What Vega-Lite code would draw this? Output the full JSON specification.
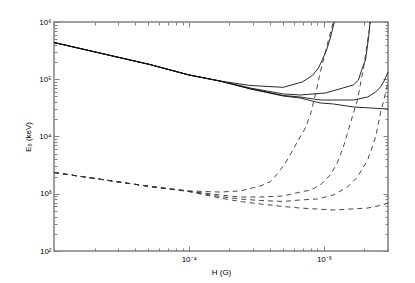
{
  "$schema": "https://vega.github.io/schema/vega-lite/v6.json",
  "width": 334,
  "height": 229,
  "autosize": "none",
  "padding": {"left": 54, "top": 22, "right": 27, "bottom": 32},
  "background": "white",
  "config": {
    "view": {"stroke": "#808080", "strokeWidth": 1.5},
    "font": "Liberation Sans",
    "axis": {"labelFont": "Liberation Sans", "titleFont": "Liberation Sans", "labelColor": "#000", "titleColor": "#000", "tickColor": "#808080", "tickWidth": 1, "domain": false, "grid": false, "labelFontSize": 8, "titleFontSize": 8, "titleFontWeight": "normal", "labelOverlap": false}
  },
  "datasets": {
    "curves": [
      {"curve": "s1", "branch": "high", "H": 0.00001, "E": 438000},
      {"curve": "s1", "branch": "high", "H": 0.0000217, "E": 288000},
      {"curve": "s1", "branch": "high", "H": 0.0000513, "E": 181000},
      {"curve": "s1", "branch": "high", "H": 0.0001, "E": 119000},
      {"curve": "s1", "branch": "high", "H": 0.00017, "E": 93100},
      {"curve": "s1", "branch": "high", "H": 0.000285, "E": 77800},
      {"curve": "s1", "branch": "high", "H": 0.000501, "E": 72300},
      {"curve": "s1", "branch": "high", "H": 0.000694, "E": 89500},
      {"curve": "s1", "branch": "high", "H": 0.000824, "E": 116000},
      {"curve": "s1", "branch": "high", "H": 0.000914, "E": 157000},
      {"curve": "s1", "branch": "high", "H": 0.000978, "E": 217000},
      {"curve": "s1", "branch": "high", "H": 0.00105, "E": 324000},
      {"curve": "s1", "branch": "high", "H": 0.00112, "E": 526000},
      {"curve": "s1", "branch": "high", "H": 0.0012, "E": 1000000},

      {"curve": "s2", "branch": "high", "H": 0.00001, "E": 438000},
      {"curve": "s2", "branch": "high", "H": 0.0000217, "E": 288000},
      {"curve": "s2", "branch": "high", "H": 0.0000513, "E": 181000},
      {"curve": "s2", "branch": "high", "H": 0.0001, "E": 119000},
      {"curve": "s2", "branch": "high", "H": 0.00017, "E": 93100},
      {"curve": "s2", "branch": "high", "H": 0.000285, "E": 70300},
      {"curve": "s2", "branch": "high", "H": 0.000501, "E": 55300},
      {"curve": "s2", "branch": "high", "H": 0.00067, "E": 53100},
      {"curve": "s2", "branch": "high", "H": 0.00103, "E": 57500},
      {"curve": "s2", "branch": "high", "H": 0.00166, "E": 79400},
      {"curve": "s2", "branch": "high", "H": 0.00181, "E": 97000},
      {"curve": "s2", "branch": "high", "H": 0.00188, "E": 128000},
      {"curve": "s2", "branch": "high", "H": 0.00205, "E": 226000},
      {"curve": "s2", "branch": "high", "H": 0.00215, "E": 526000},
      {"curve": "s2", "branch": "high", "H": 0.00221, "E": 1000000},

      {"curve": "s3", "branch": "high", "H": 0.00001, "E": 438000},
      {"curve": "s3", "branch": "high", "H": 0.0000217, "E": 288000},
      {"curve": "s3", "branch": "high", "H": 0.0000513, "E": 181000},
      {"curve": "s3", "branch": "high", "H": 0.0001, "E": 119000},
      {"curve": "s3", "branch": "high", "H": 0.00017, "E": 93100},
      {"curve": "s3", "branch": "high", "H": 0.000285, "E": 68900},
      {"curve": "s3", "branch": "high", "H": 0.000501, "E": 52000},
      {"curve": "s3", "branch": "high", "H": 0.00067, "E": 49000},
      {"curve": "s3", "branch": "high", "H": 0.000945, "E": 43400},
      {"curve": "s3", "branch": "high", "H": 0.00166, "E": 43400},
      {"curve": "s3", "branch": "high", "H": 0.00212, "E": 49000},
      {"curve": "s3", "branch": "high", "H": 0.00243, "E": 59900},
      {"curve": "s3", "branch": "high", "H": 0.00264, "E": 73200},
      {"curve": "s3", "branch": "high", "H": 0.00283, "E": 97000},
      {"curve": "s3", "branch": "high", "H": 0.003, "E": 134000},

      {"curve": "s4", "branch": "high", "H": 0.00001, "E": 438000},
      {"curve": "s4", "branch": "high", "H": 0.0000217, "E": 288000},
      {"curve": "s4", "branch": "high", "H": 0.0000513, "E": 181000},
      {"curve": "s4", "branch": "high", "H": 0.0001, "E": 119000},
      {"curve": "s4", "branch": "high", "H": 0.00017, "E": 93100},
      {"curve": "s4", "branch": "high", "H": 0.000285, "E": 67600},
      {"curve": "s4", "branch": "high", "H": 0.000501, "E": 51000},
      {"curve": "s4", "branch": "high", "H": 0.00067, "E": 47000},
      {"curve": "s4", "branch": "high", "H": 0.000945, "E": 38500},
      {"curve": "s4", "branch": "high", "H": 0.00118, "E": 37000},
      {"curve": "s4", "branch": "high", "H": 0.00166, "E": 32800},
      {"curve": "s4", "branch": "high", "H": 0.003, "E": 30200},

      {"curve": "d1", "branch": "low", "H": 0.00001, "E": 2350},
      {"curve": "d1", "branch": "low", "H": 0.0000217, "E": 1800},
      {"curve": "d1", "branch": "low", "H": 0.0000513, "E": 1340},
      {"curve": "d1", "branch": "low", "H": 0.0001, "E": 1120},
      {"curve": "d1", "branch": "low", "H": 0.00017, "E": 1070},
      {"curve": "d1", "branch": "low", "H": 0.00024, "E": 1120},
      {"curve": "d1", "branch": "low", "H": 0.000338, "E": 1360},
      {"curve": "d1", "branch": "low", "H": 0.000401, "E": 1620},
      {"curve": "d1", "branch": "low", "H": 0.00046, "E": 2300},
      {"curve": "d1", "branch": "low", "H": 0.000537, "E": 3890},
      {"curve": "d1", "branch": "low", "H": 0.000637, "E": 8020},
      {"curve": "d1", "branch": "low", "H": 0.000731, "E": 14100},
      {"curve": "d1", "branch": "low", "H": 0.000796, "E": 23800},
      {"curve": "d1", "branch": "low", "H": 0.000867, "E": 53100},
      {"curve": "d1", "branch": "low", "H": 0.000945, "E": 134000},
      {"curve": "d1", "branch": "low", "H": 0.00103, "E": 299000},
      {"curve": "d1", "branch": "low", "H": 0.0011, "E": 547000},
      {"curve": "d1", "branch": "low", "H": 0.00118, "E": 1000000},

      {"curve": "d2", "branch": "low", "H": 0.00001, "E": 2350},
      {"curve": "d2", "branch": "low", "H": 0.0000217, "E": 1800},
      {"curve": "d2", "branch": "low", "H": 0.0000513, "E": 1340},
      {"curve": "d2", "branch": "low", "H": 0.0001, "E": 1110},
      {"curve": "d2", "branch": "low", "H": 0.00017, "E": 951},
      {"curve": "d2", "branch": "low", "H": 0.00024, "E": 877},
      {"curve": "d2", "branch": "low", "H": 0.000338, "E": 877},
      {"curve": "d2", "branch": "low", "H": 0.000501, "E": 914},
      {"curve": "d2", "branch": "low", "H": 0.00067, "E": 1070},
      {"curve": "d2", "branch": "low", "H": 0.000796, "E": 1160},
      {"curve": "d2", "branch": "low", "H": 0.000945, "E": 1420},
      {"curve": "d2", "branch": "low", "H": 0.00112, "E": 2130},
      {"curve": "d2", "branch": "low", "H": 0.00126, "E": 3440},
      {"curve": "d2", "branch": "low", "H": 0.0014, "E": 6560},
      {"curve": "d2", "branch": "low", "H": 0.00158, "E": 17200},
      {"curve": "d2", "branch": "low", "H": 0.00178, "E": 43400},
      {"curve": "d2", "branch": "low", "H": 0.00198, "E": 164000},
      {"curve": "d2", "branch": "low", "H": 0.00215, "E": 593000},
      {"curve": "d2", "branch": "low", "H": 0.00223, "E": 1000000},

      {"curve": "d3", "branch": "low", "H": 0.00001, "E": 2350},
      {"curve": "d3", "branch": "low", "H": 0.0000217, "E": 1800},
      {"curve": "d3", "branch": "low", "H": 0.0000513, "E": 1340},
      {"curve": "d3", "branch": "low", "H": 0.0001, "E": 1100},
      {"curve": "d3", "branch": "low", "H": 0.00017, "E": 895},
      {"curve": "d3", "branch": "low", "H": 0.00024, "E": 809},
      {"curve": "d3", "branch": "low", "H": 0.000338, "E": 762},
      {"curve": "d3", "branch": "low", "H": 0.000501, "E": 733},
      {"curve": "d3", "branch": "low", "H": 0.00067, "E": 778},
      {"curve": "d3", "branch": "low", "H": 0.000897, "E": 809},
      {"curve": "d3", "branch": "low", "H": 0.00118, "E": 951},
      {"curve": "d3", "branch": "low", "H": 0.0015, "E": 1310},
      {"curve": "d3", "branch": "low", "H": 0.00178, "E": 1960},
      {"curve": "d3", "branch": "low", "H": 0.00212, "E": 3890},
      {"curve": "d3", "branch": "low", "H": 0.00243, "E": 9800},
      {"curve": "d3", "branch": "low", "H": 0.00264, "E": 25700},
      {"curve": "d3", "branch": "low", "H": 0.00283, "E": 49000},
      {"curve": "d3", "branch": "low", "H": 0.003, "E": 89500},

      {"curve": "d4", "branch": "low", "H": 0.00001, "E": 2350},
      {"curve": "d4", "branch": "low", "H": 0.0000217, "E": 1800},
      {"curve": "d4", "branch": "low", "H": 0.0000513, "E": 1340},
      {"curve": "d4", "branch": "low", "H": 0.0001, "E": 1090},
      {"curve": "d4", "branch": "low", "H": 0.00017, "E": 844},
      {"curve": "d4", "branch": "low", "H": 0.00024, "E": 733},
      {"curve": "d4", "branch": "low", "H": 0.000338, "E": 663},
      {"curve": "d4", "branch": "low", "H": 0.000501, "E": 599},
      {"curve": "d4", "branch": "low", "H": 0.00067, "E": 563},
      {"curve": "d4", "branch": "low", "H": 0.00118, "E": 520},
      {"curve": "d4", "branch": "low", "H": 0.00212, "E": 563},
      {"curve": "d4", "branch": "low", "H": 0.00274, "E": 635},
      {"curve": "d4", "branch": "low", "H": 0.003, "E": 689}
    ]
  },
  "data": {"name": "curves"},
  "layer": [
    {
      "transform": [{"filter": "datum.branch == 'high'"}],
      "mark": {"type": "line", "clip": true, "color": "#111111", "strokeWidth": 0.9},
      "encoding": {
        "detail": {"field": "curve"},
        "x": {
          "field": "H", "type": "quantitative",
          "scale": {"type": "log", "domain": [0.00001, 0.003], "nice": false},
          "axis": {
            "orient": "bottom",
            "values": [0.00001, 0.00002, 0.00003, 0.00004, 0.00005, 0.00006, 0.00007, 0.00008, 0.00009, 0.0001, 0.0002, 0.0003, 0.0004, 0.0005, 0.0006, 0.0007, 0.0008, 0.0009, 0.001, 0.002, 0.003],
            "labelExpr": "datum.value == 0.0001 ? '10⁻⁴' : datum.value == 0.001 ? '10⁻³' : ''",
            "tickSize": {"condition": {"test": "datum.value == 0.0001 || datum.value == 0.001", "value": -5}, "value": -3},
            "labelPadding": 9,
            "title": "H (G)",
            "titlePadding": 3
          }
        },
        "y": {
          "field": "E", "type": "quantitative",
          "scale": {"type": "log", "domain": [100, 1000000], "nice": false},
          "axis": {
            "orient": "left",
            "values": [100, 200, 300, 400, 500, 600, 700, 800, 900, 1000, 2000, 3000, 4000, 5000, 6000, 7000, 8000, 9000, 10000, 20000, 30000, 40000, 50000, 60000, 70000, 80000, 90000, 100000, 200000, 300000, 400000, 500000, 600000, 700000, 800000, 900000, 1000000],
            "labelExpr": "datum.value == 100 ? '10²' : datum.value == 1000 ? '10³' : datum.value == 10000 ? '10⁴' : datum.value == 100000 ? '10⁵' : datum.value == 1000000 ? '10⁶' : ''",
            "tickSize": {"condition": {"test": "datum.value == 100 || datum.value == 1000 || datum.value == 10000 || datum.value == 100000 || datum.value == 1000000", "value": -5}, "value": -3},
            "labelPadding": 8,
            "title": "E₀ (keV)",
            "titlePadding": 6
          }
        }
      }
    },
    {
      "transform": [{"filter": "datum.branch == 'low'"}],
      "mark": {"type": "line", "clip": true, "color": "#333333", "strokeWidth": 0.9, "strokeDash": [5, 4]},
      "encoding": {
        "detail": {"field": "curve"},
        "x": {
          "field": "H", "type": "quantitative",
          "axis": {
            "orient": "top",
            "values": [0.00001, 0.00002, 0.00003, 0.00004, 0.00005, 0.00006, 0.00007, 0.00008, 0.00009, 0.0001, 0.0002, 0.0003, 0.0004, 0.0005, 0.0006, 0.0007, 0.0008, 0.0009, 0.001, 0.002, 0.003],
            "labels": false,
            "tickSize": {"condition": {"test": "datum.value == 0.0001 || datum.value == 0.001", "value": -5}, "value": -3},
            "title": null
          }
        },
        "y": {
          "field": "E", "type": "quantitative",
          "axis": {
            "orient": "right",
            "values": [100, 200, 300, 400, 500, 600, 700, 800, 900, 1000, 2000, 3000, 4000, 5000, 6000, 7000, 8000, 9000, 10000, 20000, 30000, 40000, 50000, 60000, 70000, 80000, 90000, 100000, 200000, 300000, 400000, 500000, 600000, 700000, 800000, 900000, 1000000],
            "labels": false,
            "tickSize": {"condition": {"test": "datum.value == 100 || datum.value == 1000 || datum.value == 10000 || datum.value == 100000 || datum.value == 1000000", "value": -5}, "value": -3},
            "title": null
          }
        }
      }
    }
  ],
  "resolve": {"axis": {"x": "independent", "y": "independent"}}
}
